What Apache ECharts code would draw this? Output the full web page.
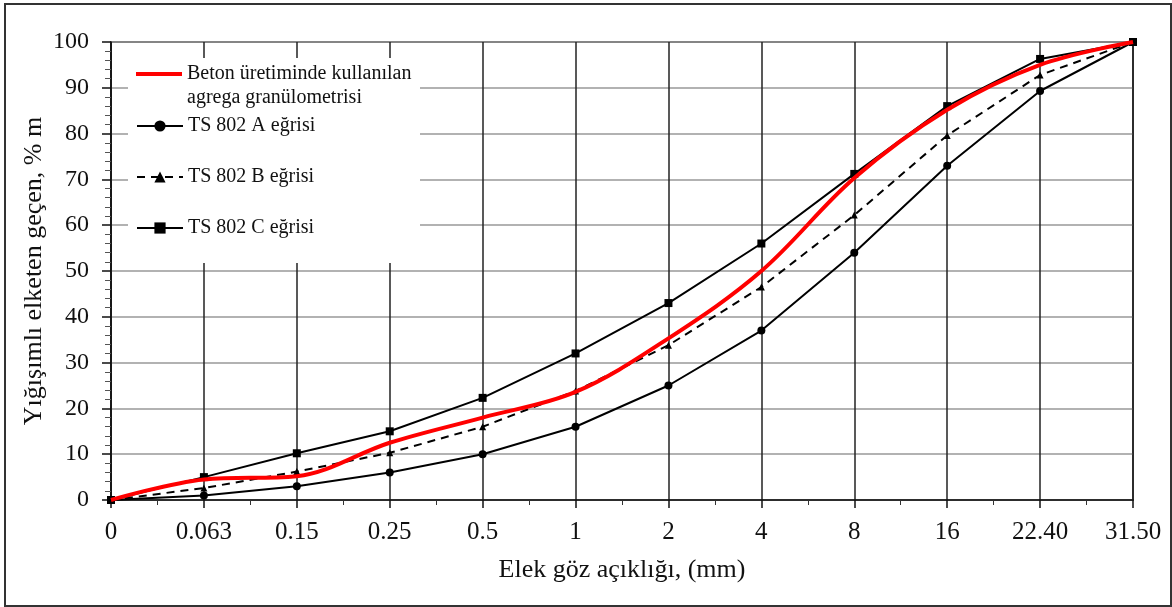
<!DOCTYPE html>
<html lang="tr">
<head>
    <meta charset="UTF-8">
    <title>Elek analizi</title>
    <script src="https://cdn.jsdelivr.net/npm/echarts@6/dist/echarts.min.js"></script>
    <style>
        html, body { margin: 0; padding: 0; background: #fff; }
        #chart { position: absolute; left: 0; top: 0; width: 1172px; height: 607px; }
        .frame {
            position: absolute; left: 4px; top: 3px; width: 1164px; height: 600px;
            border: 2px solid #333; pointer-events: none;
        }
    </style>
</head>
<body>
<div id="chart"></div>
<div class="frame"></div>
<script>
    // elek göz açıklıkları (mm)
    const sieves = ['0', '0.063', '0.15', '0.25', '0.5', '1', '2', '4', '8', '16', '22.40', '31.50'];

    // yığışımlı elekten geçen, %
    const betonAgrega = [0, 4.5, 5.2, 12.5, 18, 23.6, 35.3, 50, 70.3, 85.2, 95, 100];
    const curveA = [0, 1, 3, 6, 10, 16, 25, 37, 54, 73, 89.3, 100];
    const curveB = [0, 2.6, 6.2, 10.3, 16, 23.8, 33.8, 46.5, 62.2, 79.6, 92.8, 100];
    const curveC = [0, 5, 10.2, 15, 22.3, 32, 43, 56, 71.2, 86, 96.3, 100];

    const yTicks = [0, 10, 20, 30, 40, 50, 60, 70, 80, 90, 100];

    const font = 'Liberation Serif';
    const pairs = arr => arr.map((v, i) => [i, v]);

    const chart = echarts.init(document.getElementById('chart'));
    const option = {
        animation: false,
        backgroundColor: '#fff',
        textStyle: { fontFamily: font, color: '#111' },
        grid: {
            left: 111, top: 42, right: 39, bottom: 107,
            show: true, borderColor: '#111', borderWidth: 1.5
        },
        graphic: [
            {
                // legend background
                type: 'rect', z: 1,
                shape: { x: 128, y: 58, width: 292, height: 205 },
                style: { fill: '#fff' }
            }
        ],
        legend: [
            {
                data: [{ name: 'Beton üretiminde kullanılan\nagrega granülometrisi', icon: 'rect' }],
                left: 136, top: 38, padding: 0,
                itemWidth: 46, itemHeight: 4,
                // empty first line so the icon sits on the first text line
                formatter: name => '\n' + name,
                textStyle: { fontFamily: font, fontSize: 20, lineHeight: 24, color: '#111' }
            },
            {
                data: ['TS 802 A eğrisi', 'TS 802 B eğrisi', 'TS 802 C eğrisi'],
                orient: 'vertical',
                left: 136, top: 114, padding: 0,
                itemWidth: 46, itemHeight: 14, itemGap: 27,
                textStyle: { fontFamily: font, fontSize: 20, lineHeight: 24, color: '#111' }
            }
        ],
        xAxis: {
            type: 'value',
            min: 0, max: sieves.length - 1, interval: 1,
            name: 'Elek göz açıklığı, (mm)',
            nameLocation: 'middle', nameGap: 57,
            nameTextStyle: { fontFamily: font, fontSize: 26, color: '#111' },
            axisLine: { show: true, lineStyle: { color: '#111', width: 1.5 } },
            axisTick: { show: true, length: 8, lineStyle: { color: '#111', width: 1.5 } },
            minorTick: { show: true, splitNumber: 2, length: 5, lineStyle: { color: '#333', width: 1 } },
            axisLabel: {
                margin: 20, fontFamily: font, fontSize: 25, color: '#111',
                formatter: v => sieves[v] !== undefined ? sieves[v] : ''
            },
            splitLine: { show: true, lineStyle: { color: '#222', width: 1.5 } }
        },
        yAxis: {
            type: 'value',
            min: 0, max: 100, interval: 10,
            name: 'Yığışımlı elketen geçen, % m',
            nameLocation: 'middle', nameGap: 64,
            nameMoveOverlap: false,
            nameTextStyle: { fontFamily: font, fontSize: 26, color: '#111' },
            axisLine: { show: true, lineStyle: { color: '#111', width: 1.5 } },
            axisTick: { show: true, length: 9, lineStyle: { color: '#111', width: 1.5 } },
            minorTick: { show: true, splitNumber: 5, length: 6, lineStyle: { color: '#555', width: 1 } },
            axisLabel: {
                margin: 22, fontFamily: font, fontSize: 24, color: '#111',
                formatter: v => yTicks.includes(v) ? String(v) : ''
            },
            splitLine: { show: true, lineStyle: { color: '#999', width: 1.5 } }
        },
        series: [
            {
                name: 'TS 802 A eğrisi',
                type: 'line',
                data: pairs(curveA),
                symbol: 'circle', symbolSize: 8,
                itemStyle: { color: '#000' },
                lineStyle: { color: '#000', width: 2 },
                z: 3
            },
            {
                name: 'TS 802 B eğrisi',
                type: 'line',
                data: pairs(curveB),
                symbol: 'triangle', symbolSize: 7,
                itemStyle: { color: '#000' },
                lineStyle: { color: '#000', width: 2, type: [8, 6] },
                z: 3
            },
            {
                name: 'TS 802 C eğrisi',
                type: 'line',
                data: pairs(curveC),
                symbol: 'rect', symbolSize: 8,
                itemStyle: { color: '#000' },
                lineStyle: { color: '#000', width: 2 },
                z: 3
            },
            {
                name: 'Beton üretiminde kullanılan\nagrega granülometrisi',
                type: 'line',
                data: pairs(betonAgrega),
                smooth: 0.35,
                symbol: 'none',
                itemStyle: { color: '#ff0000' },
                lineStyle: { color: '#ff0000', width: 4 },
                z: 4
            }
        ]
    };
    chart.setOption(option);
    window.addEventListener('resize', () => {
        chart.resize();
    });
</script>
</body>
</html>
